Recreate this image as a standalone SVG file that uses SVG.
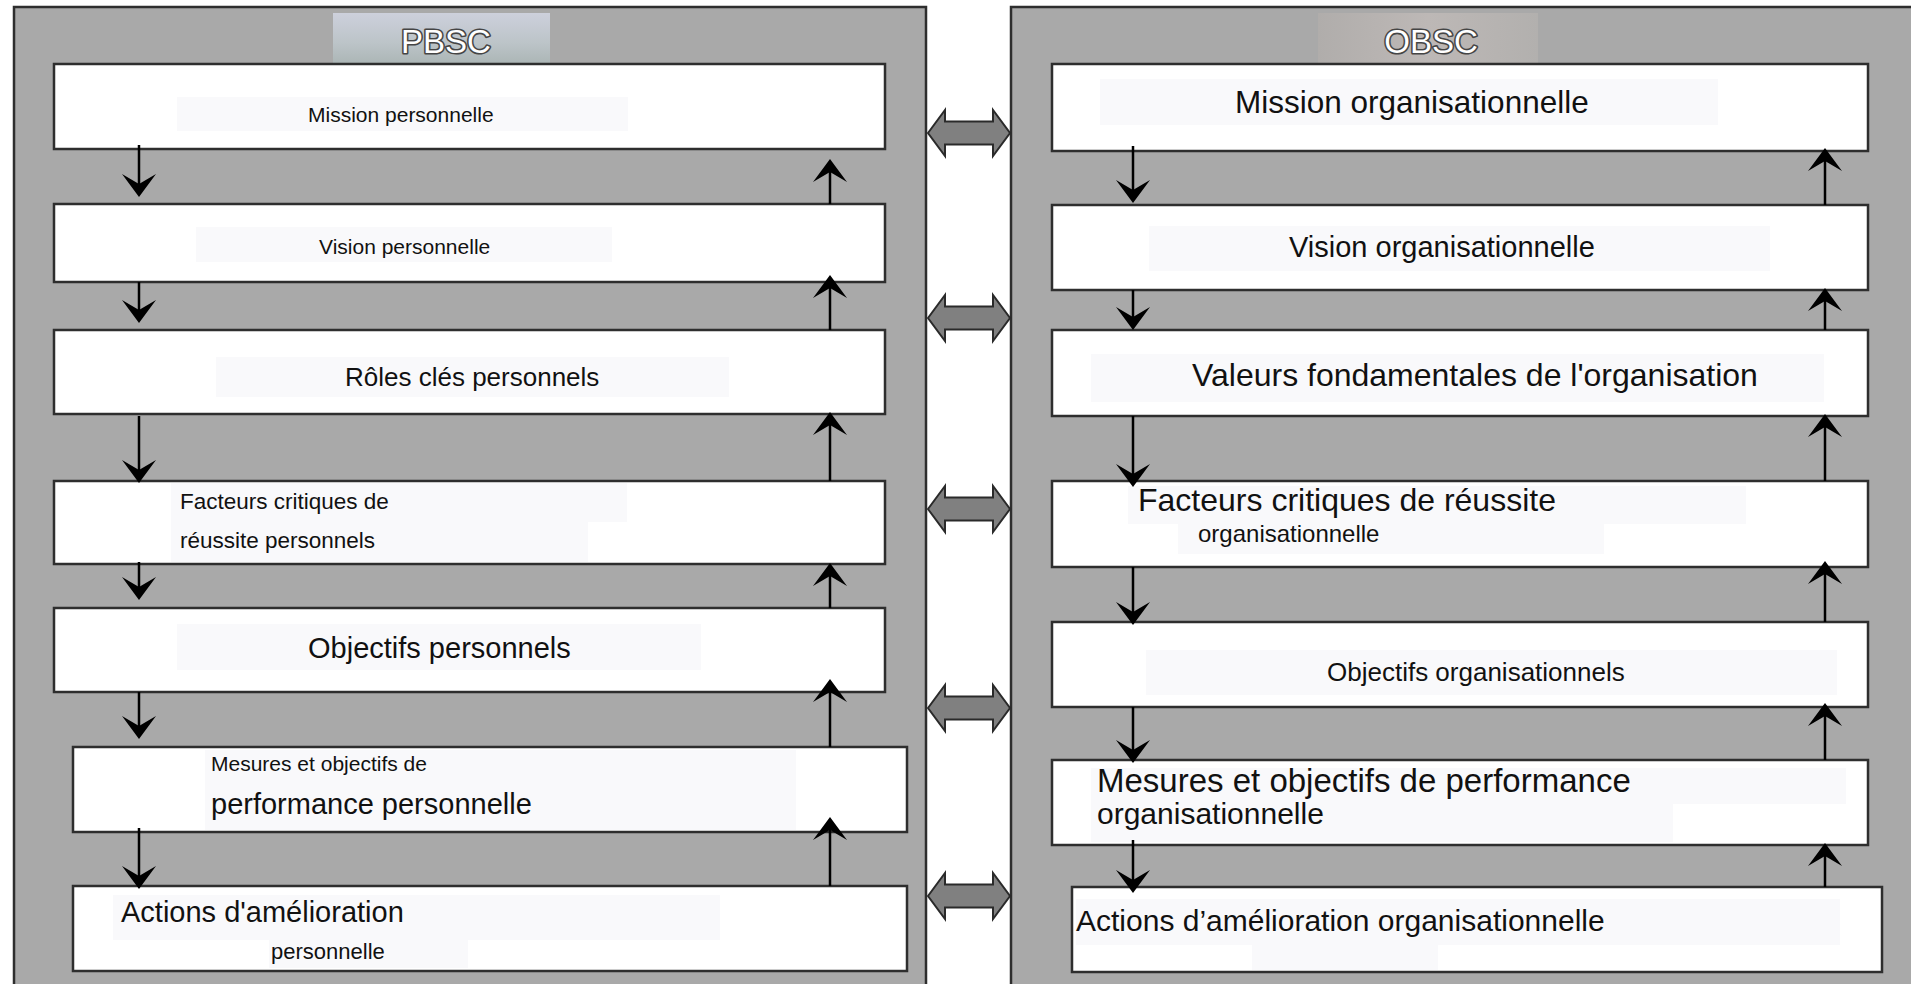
<svg xmlns="http://www.w3.org/2000/svg" width="1911" height="984" viewBox="0 0 1911 984">
<defs>
<style>
.panel{fill:#a9a9a9;stroke:#2e2e2e;stroke-width:2.5}
.box{fill:#ffffff;stroke:#2e2e2e;stroke-width:2.5}
.tb{fill:#f9f9fb}
.t{font-family:"Liberation Sans",Arial,sans-serif;fill:#111}
.ttl{font-family:"Liberation Sans",Arial,sans-serif;font-size:33px;fill:#ffffff;stroke:#454545;stroke-width:3.2;paint-order:stroke;stroke-linejoin:round}
.ln{stroke:#000;stroke-width:2.5;fill:none}
.hd{fill:#000}
.dbl{fill:#808080;stroke:#2a2a2a;stroke-width:2;stroke-linejoin:miter}
</style>
<linearGradient id="gp" x1="0" y1="0" x2="0" y2="1">
<stop offset="0" stop-color="#cdd0dc"/>
<stop offset="0.6" stop-color="#bcc4c8"/>
<stop offset="1" stop-color="#acb6b6"/>
</linearGradient>
<linearGradient id="go" x1="0" y1="0" x2="1" y2="0">
<stop offset="0" stop-color="#b0adab"/>
<stop offset="0.5" stop-color="#bdb8b6"/>
<stop offset="1" stop-color="#b2b0ae"/>
</linearGradient>
<path id="hdown" d="M0,0 L-17,-23 L0,-13 L17,-23 Z"/>
<path id="hup" d="M0,0 L-17,23 L0,13 L17,23 Z"/>
</defs>
<rect x="0" y="0" width="1911" height="984" fill="#ffffff"/>

<g id="panel-pbsc">
<rect class="panel" x="14" y="7" width="912" height="985"/>
<rect x="333" y="13" width="217" height="50" fill="url(#gp)"/>
<text class="ttl" x="446" y="53" text-anchor="middle">PBSC</text>
</g>
<g id="panel-obsc">
<rect class="panel" x="1011" y="7" width="910" height="985"/>
<rect x="1318" y="13" width="220" height="50" fill="url(#go)"/>
<text class="ttl" x="1431" y="53" text-anchor="middle">OBSC</text>
</g>

<g id="p1">
<rect class="box" x="54" y="64" width="831" height="85"/>
<rect class="tb" x="177" y="97" width="451" height="34"/>
<text class="t" x="308" y="122" font-size="21">Mission personnelle</text>
</g>
<g id="p2">
<rect class="box" x="54" y="204" width="831" height="78"/>
<rect class="tb" x="196" y="227" width="416" height="35"/>
<text class="t" x="319" y="254" font-size="21">Vision personnelle</text>
</g>
<g id="p3">
<rect class="box" x="54" y="330" width="831" height="84"/>
<rect class="tb" x="216" y="357" width="513" height="40"/>
<text class="t" x="345" y="386" font-size="26">Rôles clés personnels</text>
</g>
<g id="p4">
<rect class="box" x="54" y="481" width="831" height="83"/>
<rect class="tb" x="171" y="483" width="456" height="39"/>
<rect class="tb" x="171" y="522" width="417" height="40"/>
<text class="t" x="180" y="509" font-size="22.5">Facteurs critiques de</text>
<text class="t" x="180" y="548" font-size="22.5">réussite personnels</text>
</g>
<g id="p5">
<rect class="box" x="54" y="608" width="831" height="84"/>
<rect class="tb" x="177" y="624" width="524" height="46"/>
<text class="t" x="308" y="658" font-size="29">Objectifs personnels</text>
</g>
<g id="p6">
<rect class="box" x="73" y="747" width="834" height="85"/>
<rect class="tb" x="205" y="750" width="591" height="80"/>
<text class="t" x="211" y="771" font-size="21">Mesures et objectifs de</text>
<text class="t" x="211" y="814" font-size="29">performance personnelle</text>
</g>
<g id="p7">
<rect class="box" x="73" y="886" width="834" height="85"/>
<rect class="tb" x="113" y="895" width="607" height="45"/>
<rect class="tb" x="269" y="940" width="199" height="28"/>
<text class="t" x="121" y="922" font-size="29">Actions d'amélioration</text>
<text class="t" x="271" y="959" font-size="22">personnelle</text>
</g>

<g id="o1">
<rect class="box" x="1052" y="64" width="816" height="87"/>
<rect class="tb" x="1100" y="79" width="618" height="46"/>
<text class="t" x="1235" y="113" font-size="31.5">Mission organisationnelle</text>
</g>
<g id="o2">
<rect class="box" x="1052" y="205" width="816" height="85"/>
<rect class="tb" x="1149" y="226" width="621" height="45"/>
<text class="t" x="1289" y="257" font-size="29">Vision organisationnelle</text>
</g>
<g id="o3">
<rect class="box" x="1052" y="330" width="816" height="86"/>
<rect class="tb" x="1091" y="354" width="733" height="48"/>
<text class="t" x="1192" y="386" font-size="32">Valeurs fondamentales de l'organisation</text>
</g>
<g id="o4">
<rect class="box" x="1052" y="481" width="816" height="86"/>
<rect class="tb" x="1128" y="486" width="618" height="38"/>
<rect class="tb" x="1178" y="520" width="426" height="34"/>
<text class="t" x="1138" y="511" font-size="32">Facteurs critiques de réussite</text>
<text class="t" x="1198" y="542" font-size="24">organisationnelle</text>
</g>
<g id="o5">
<rect class="box" x="1052" y="622" width="816" height="85"/>
<rect class="tb" x="1146" y="650" width="691" height="45"/>
<text class="t" x="1327" y="681" font-size="26">Objectifs organisationnels</text>
</g>
<g id="o6">
<rect class="box" x="1052" y="760" width="816" height="85"/>
<rect class="tb" x="1091" y="768" width="755" height="36"/>
<rect class="tb" x="1091" y="804" width="582" height="38"/>
<text class="t" x="1097" y="792" font-size="33">Mesures et objectifs de performance</text>
<text class="t" x="1097" y="824" font-size="30">organisationnelle</text>
</g>
<g id="o7">
<rect class="box" x="1072" y="887" width="810" height="85"/>
<rect class="tb" x="1076" y="899" width="764" height="46"/>
<rect class="tb" x="1252" y="945" width="186" height="25"/>
<text class="t" x="1076" y="931" font-size="30">Actions d’amélioration organisationnelle</text>
</g>

<g id="connectors">
<line class="ln" x1="139" y1="145" x2="139" y2="185"/><use href="#hdown" class="hd" x="139" y="197"/>
<line class="ln" x1="139" y1="282" x2="139" y2="312"/><use href="#hdown" class="hd" x="139" y="323"/>
<line class="ln" x1="139" y1="416" x2="139" y2="472"/><use href="#hdown" class="hd" x="139" y="483"/>
<line class="ln" x1="139" y1="562" x2="139" y2="590"/><use href="#hdown" class="hd" x="139" y="600"/>
<line class="ln" x1="139" y1="692" x2="139" y2="728"/><use href="#hdown" class="hd" x="139" y="739"/>
<line class="ln" x1="139" y1="828" x2="139" y2="878"/><use href="#hdown" class="hd" x="139" y="889"/>
<line class="ln" x1="830" y1="204" x2="830" y2="170"/><use href="#hup" class="hd" x="830" y="159"/>
<line class="ln" x1="830" y1="330" x2="830" y2="286"/><use href="#hup" class="hd" x="830" y="275"/>
<line class="ln" x1="830" y1="481" x2="830" y2="423"/><use href="#hup" class="hd" x="830" y="412"/>
<line class="ln" x1="830" y1="608" x2="830" y2="574"/><use href="#hup" class="hd" x="830" y="563"/>
<line class="ln" x1="830" y1="747" x2="830" y2="690"/><use href="#hup" class="hd" x="830" y="679"/>
<line class="ln" x1="830" y1="886" x2="830" y2="828"/><use href="#hup" class="hd" x="830" y="817"/>
<line class="ln" x1="1133" y1="146" x2="1133" y2="192"/><use href="#hdown" class="hd" x="1133" y="203"/>
<line class="ln" x1="1133" y1="290" x2="1133" y2="319"/><use href="#hdown" class="hd" x="1133" y="330"/>
<line class="ln" x1="1133" y1="416" x2="1133" y2="476"/><use href="#hdown" class="hd" x="1133" y="487"/>
<line class="ln" x1="1133" y1="567" x2="1133" y2="614"/><use href="#hdown" class="hd" x="1133" y="625"/>
<line class="ln" x1="1133" y1="707" x2="1133" y2="752"/><use href="#hdown" class="hd" x="1133" y="763"/>
<line class="ln" x1="1133" y1="840" x2="1133" y2="882"/><use href="#hdown" class="hd" x="1133" y="893"/>
<line class="ln" x1="1825" y1="205" x2="1825" y2="159"/><use href="#hup" class="hd" x="1825" y="148"/>
<line class="ln" x1="1825" y1="330" x2="1825" y2="299"/><use href="#hup" class="hd" x="1825" y="288"/>
<line class="ln" x1="1825" y1="481" x2="1825" y2="425"/><use href="#hup" class="hd" x="1825" y="414"/>
<line class="ln" x1="1825" y1="622" x2="1825" y2="572"/><use href="#hup" class="hd" x="1825" y="561"/>
<line class="ln" x1="1825" y1="760" x2="1825" y2="714"/><use href="#hup" class="hd" x="1825" y="703"/>
<line class="ln" x1="1825" y1="887" x2="1825" y2="854"/><use href="#hup" class="hd" x="1825" y="843"/>
<path class="dbl" d="M928,133 L945,110 L945,121.5 L993,121.5 L993,110 L1010,133 L993,156 L993,144.5 L945,144.5 L945,156 Z"/>
<path class="dbl" d="M928,318 L945,295 L945,306.5 L993,306.5 L993,295 L1010,318 L993,341 L993,329.5 L945,329.5 L945,341 Z"/>
<path class="dbl" d="M928,509 L945,486 L945,497.5 L993,497.5 L993,486 L1010,509 L993,532 L993,520.5 L945,520.5 L945,532 Z"/>
<path class="dbl" d="M928,708 L945,685 L945,696.5 L993,696.5 L993,685 L1010,708 L993,731 L993,719.5 L945,719.5 L945,731 Z"/>
<path class="dbl" d="M928,896 L945,873 L945,884.5 L993,884.5 L993,873 L1010,896 L993,919 L993,907.5 L945,907.5 L945,919 Z"/>
</g>
</svg>
